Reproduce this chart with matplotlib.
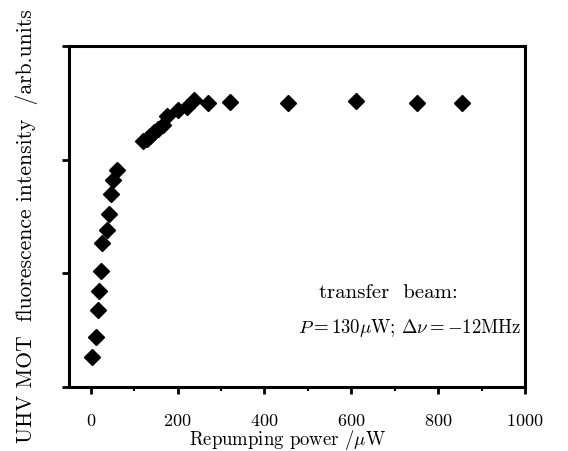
import matplotlib
matplotlib.use("Agg")
import matplotlib.pyplot as plt
from matplotlib.ticker import MultipleLocator, NullFormatter

plt.rcParams['font.family'] = 'serif'
plt.rcParams['font.serif'] = ['cmr10']
plt.rcParams['mathtext.fontset'] = 'cm'
plt.rcParams['axes.formatter.use_mathtext'] = True

# repumping power (uW) and fluorescence (arb. units)
power = [4, 12, 16, 19, 23, 27, 37, 41, 46, 51, 60,
         120, 130, 137, 146, 156, 167, 176, 200, 222, 237, 271, 320,
         455, 610, 750, 855]
signal = [0.26, 0.435, 0.67, 0.84, 1.02, 1.26, 1.38, 1.52, 1.70, 1.82, 1.91,
          2.16, 2.18, 2.21, 2.24, 2.27, 2.30, 2.38, 2.44, 2.46, 2.52, 2.50, 2.51,
          2.50, 2.515, 2.50, 2.495]

fig = plt.figure(figsize=(5.68, 4.51), dpi=100)
ax = fig.add_axes([0.1215, 0.143, 0.803, 0.755])

ax.plot(power, signal, 'D', color='black', markersize=8, linestyle='none')

ax.set_xlim(-50, 1000)
ax.set_ylim(0, 3)
ax.xaxis.set_major_locator(MultipleLocator(200))
ax.xaxis.set_minor_locator(MultipleLocator(100))
ax.yaxis.set_major_locator(MultipleLocator(1))
ax.yaxis.set_major_formatter(NullFormatter())
ax.tick_params(axis='both', which='major', direction='out', length=5, width=2, labelsize=13)
ax.tick_params(axis='x', which='major', pad=14)
ax.tick_params(axis='x', which='minor', direction='out', length=3, width=1.5)
ax.tick_params(top=False, right=False)
for s in ax.spines.values():
    s.set_linewidth(2.2)

ax.set_xlabel(r'Repumping power /$\mu$W', fontsize=13.5)
ax.xaxis.set_label_coords(0.478, -0.122)
ax.set_ylabel('UHV MOT  fluorescence intensity  /arb.units', fontsize=15.5)
ax.yaxis.set_label_coords(-0.068, 0.47)

ax.text(0.701, 0.26, 'transfer  beam:', transform=ax.transAxes, ha='center',
        va='baseline', fontsize=15)
ax.text(0.748, 0.157, r'$P = 130\mu$W; $\Delta\nu = -12$MHz', transform=ax.transAxes,
        ha='center', va='baseline', fontsize=13.5)

fig.savefig('out.png', dpi=100)
